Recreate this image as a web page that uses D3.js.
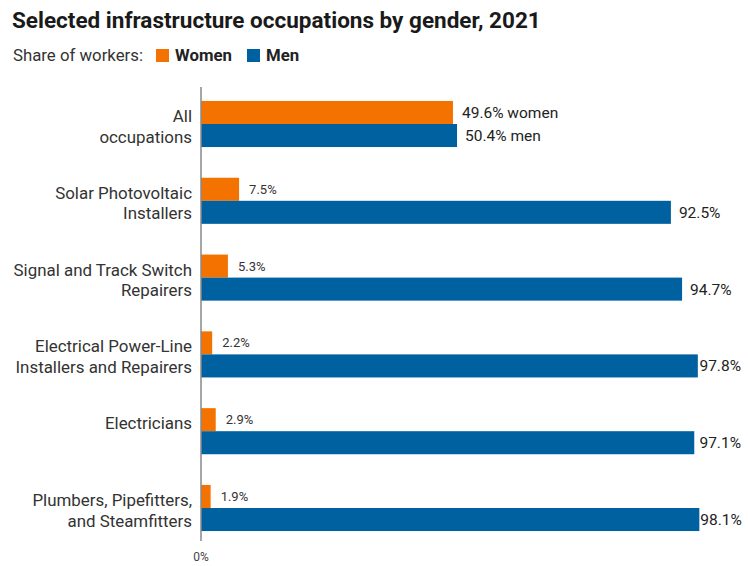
<!DOCTYPE html>
<html>
<head>
<meta charset="utf-8">
<script src="https://cdn.jsdelivr.net/npm/d3@7"></script>
<style>
  body { margin: 0; background: #fff; font-family: Roboto, "Noto Sans", sans-serif; }
  svg text { font-family: Roboto, "Noto Sans", sans-serif; }
</style>
</head>
<body>
<svg id="chart" width="748" height="566"></svg>
<script>
// data
const categories = [
  ["All", "occupations"],
  ["Solar Photovoltaic", "Installers"],
  ["Signal and Track Switch", "Repairers"],
  ["Electrical Power-Line", "Installers and Repairers"],
  ["Electricians"],
  ["Plumbers, Pipefitters,", "and Steamfitters"]
];
const women = [49.6, 7.5, 5.3, 2.2, 2.9, 1.9];
const men = [50.4, 92.5, 94.7, 97.8, 97.1, 98.1];
const seriesNames = ["Women", "Men"];
const colors = ["#f47300", "#0061a0"];

const svg = d3.select("#chart");

// title + legend
svg.append("text")
  .attr("x", 12).attr("y", 28)
  .attr("font-size", 22.5).attr("font-weight", 700).attr("fill", "#1a1a1a")
  .text("Selected infrastructure occupations by gender, 2021");

const legend = svg.append("g").attr("transform", "translate(0,61)");
legend.append("text")
  .attr("x", 13).attr("y", 0)
  .attr("font-size", 16.8).attr("fill", "#333")
  .text("Share of workers:");
const legendX = [156, 247];
seriesNames.forEach((s, i) => {
  legend.append("rect")
    .attr("x", legendX[i]).attr("y", -12)
    .attr("width", 13).attr("height", 13)
    .attr("fill", colors[i]);
  legend.append("text")
    .attr("x", legendX[i] + 19).attr("y", 0)
    .attr("font-size", 16.8).attr("font-weight", 700).attr("fill", "#222")
    .text(s);
});

// scales
const x = d3.scaleLinear().domain([0, 100]).range([201, 709]);
const y = d3.scaleBand()
  .domain(d3.range(categories.length))
  .range([85.6, 546.4])
  .paddingInner(0.4)
  .paddingOuter(0.2);
const bh = y.bandwidth() / 2;

const g = svg.append("g");

// bars
g.selectAll("rect.w").data(women).join("rect")
  .attr("class", "w")
  .attr("x", x(0)).attr("y", (d, i) => y(i))
  .attr("width", d => x(d) - x(0)).attr("height", bh)
  .attr("fill", colors[0]);

g.selectAll("rect.m").data(men).join("rect")
  .attr("class", "m")
  .attr("x", x(0)).attr("y", (d, i) => y(i) + bh)
  .attr("width", d => x(d) - x(0)).attr("height", bh)
  .attr("fill", colors[1]);

// value labels
g.selectAll("text.wl").data(women).join("text")
  .attr("class", "wl")
  .attr("x", (d, i) => x(d) + (i === 0 ? 9 : 10))
  .attr("y", (d, i) => y(i) + bh / 2)
  .attr("dy", "0.35em")
  .attr("font-size", (d, i) => i === 0 ? 15.5 : 13)
  .attr("fill", (d, i) => i === 0 ? "#222" : "#333")
  .text((d, i) => d.toFixed(1) + "%" + (i === 0 ? " women" : ""));

const rightEdge = 741;
g.selectAll("text.ml").data(men).join("text")
  .attr("class", "ml")
  .attr("x", (d, i) => x(d) + 8)
  .attr("y", (d, i) => y(i) + bh * 1.5)
  .attr("dy", "0.35em")
  .attr("font-size", 15.5)
  .attr("fill", "#222")
  .text((d, i) => d.toFixed(1) + "%" + (i === 0 ? " men" : ""))
  .each(function(d) {
    // keep labels inside the chart edge
    const w = this.getComputedTextLength();
    const x0 = x(d) + 8;
    if (x0 + w > rightEdge) d3.select(this).attr("x", Math.max(x(d) + 1, rightEdge - w));
  });

// category labels
categories.forEach((lines, i) => {
  const t = g.append("text")
    .attr("x", 192)
    .attr("y", y(i) + bh - 2)
    .attr("text-anchor", "end")
    .attr("font-size", 16.9).attr("fill", "#333");
  lines.forEach((l, j) => {
    t.append("tspan")
      .attr("x", 192)
      .attr("dy", j === 0 ? 0 : 20.5)
      .text(l);
  });
});

// axis
g.append("line")
  .attr("x1", x(0)).attr("x2", x(0))
  .attr("y1", 87).attr("y2", 541)
  .attr("stroke", "#888").attr("stroke-width", 1.5);

g.append("text")
  .attr("x", x(0)).attr("y", 561)
  .attr("text-anchor", "middle")
  .attr("font-size", 12).attr("fill", "#444")
  .text("0%");
</script>
</body>
</html>
